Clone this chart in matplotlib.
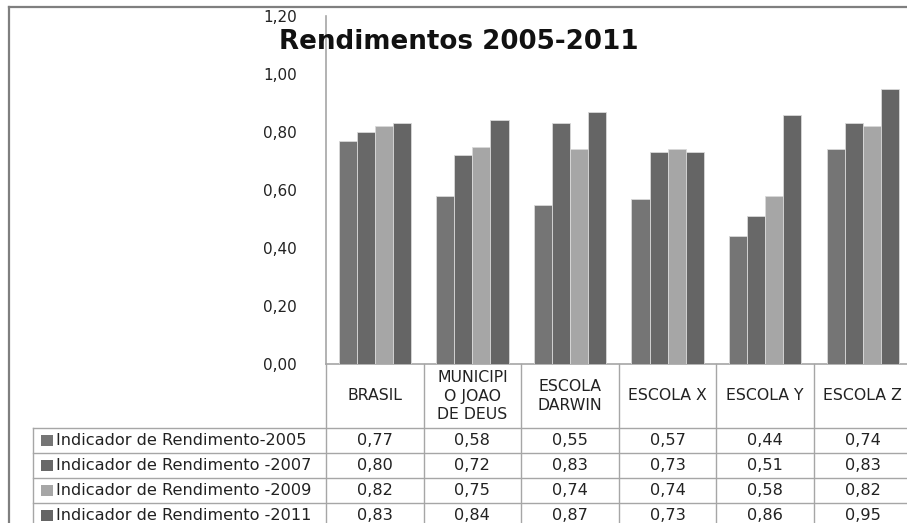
import matplotlib
matplotlib.use('Agg')
import matplotlib.pyplot as plt
from matplotlib.patches import Rectangle
from matplotlib.lines import Line2D
import matplotlib.transforms as mtransforms

# ---- data ----
categories = ["BRASIL", "MUNICIPI\nO JOAO\nDE DEUS", "ESCOLA\nDARWIN", "ESCOLA X", "ESCOLA Y", "ESCOLA Z"]
series_names = ["Indicador de Rendimento-2005", "Indicador de Rendimento -2007",
                "Indicador de Rendimento -2009", "Indicador de Rendimento -2011"]
v2005 = [0.77, 0.58, 0.55, 0.57, 0.44, 0.74]
v2007 = [0.80, 0.72, 0.83, 0.73, 0.51, 0.83]
v2009 = [0.82, 0.75, 0.74, 0.74, 0.58, 0.82]
v2011 = [0.83, 0.84, 0.87, 0.73, 0.86, 0.95]
yticks = [0.0, 0.2, 0.4, 0.6, 0.8, 1.0, 1.2]
title = "Rendimentos 2005-2011"

series = [v2005, v2007, v2009, v2011]
colors = ["#757575", "#686868", "#a6a6a6", "#656565"]

plt.rcParams['font.family'] = ['DejaVu Sans']

W, H = 907, 523
fig = plt.figure(figsize=(W / 100, H / 100), dpi=100)

def fx(px):
    return px / W

def fy(py):
    return 1 - py / H

ax_left, ax_right, ax_top, ax_bottom = 326, 911.6, 16, 364
ax = fig.add_axes([fx(ax_left), fy(ax_bottom), fx(ax_right - ax_left), (ax_bottom - ax_top) / H])

n = len(categories)
ns = len(series)
bw = 0.185
for i, (vals, col) in enumerate(zip(series, colors)):
    xs = [c + (i - (ns - 1) / 2) * bw for c in range(n)]
    ax.bar(xs, vals, width=bw, color=col, edgecolor="#d9d9d9", linewidth=0.6, zorder=3)

ax.set_xlim(-0.5, n - 0.5)
ax.set_ylim(0, 1.2)
ax.set_yticks(yticks)
ax.set_yticklabels([f"{t:.2f}".replace('.', ',') for t in yticks], fontsize=11, color="#222222")
ax.tick_params(axis='y', length=0, pad=21)
ax.set_xticks([])
for s in ['top', 'right']:
    ax.spines[s].set_visible(False)
ax.spines['left'].set_color('#a6a6a6')
ax.spines['bottom'].set_color('#a6a6a6')
ax.spines['left'].set_linewidth(1.2)
ax.spines['bottom'].set_linewidth(1.2)

# Title
fig.text(fx(459), fy(42), title, fontsize=18.8, fontweight='bold', ha='center', va='center', color='#111111')

# Outer frame
frame_col = '#7f7f7f'
fig.add_artist(Line2D([fx(9), 1.0], [fy(7), fy(7)], transform=fig.transFigure, color=frame_col, lw=1.6))
fig.add_artist(Line2D([fx(9), fx(9)], [fy(7), 0.0], transform=fig.transFigure, color=frame_col, lw=1.6))

# ---- data table ----
blend = mtransforms.blended_transform_factory(ax.transData, fig.transFigure)
line_col = '#a6a6a6'
header_bottom = 428
row_h = 25
rows_y = [header_bottom + k * row_h for k in range(ns + 1)]

# vertical category dividers
for b in range(n + 1):
    xb = b - 0.5
    fig.add_artist(Line2D([xb, xb], [fy(ax_bottom), 0.0], transform=blend, color=line_col, lw=1.0, clip_on=False))
# left edge of row label column
fig.add_artist(Line2D([fx(33), fx(33)], [fy(header_bottom), 0.0], transform=fig.transFigure, color=line_col, lw=1.0))
# horizontal row lines
for y in rows_y:
    fig.add_artist(Line2D([fx(33), 1.0], [fy(y), fy(y)], transform=fig.transFigure, color=line_col, lw=1.0))

# header labels
for c, cat in enumerate(categories):
    fig.text(c, fy((ax_bottom + header_bottom) / 2), cat, transform=blend, ha='center', va='center',
             fontsize=11.3, color='#222222', linespacing=1.3)

# rows
for r, (name, vals, col) in enumerate(zip(series_names, series, colors)):
    yc = rows_y[r] + row_h / 2
    fig.add_artist(Rectangle((fx(41), fy(yc + 5.5)), fx(12), 11 / H, transform=fig.transFigure,
                             facecolor=col, edgecolor='none'))
    fig.text(fx(56), fy(yc), name, ha='left', va='center', fontsize=11.6, color='#222222')
    for c, v in enumerate(vals):
        fig.text(c, fy(yc), f"{v:.2f}".replace('.', ','), transform=blend, ha='center', va='center',
                 fontsize=11.6, color='#222222')

fig.savefig('out.png', dpi=100)
